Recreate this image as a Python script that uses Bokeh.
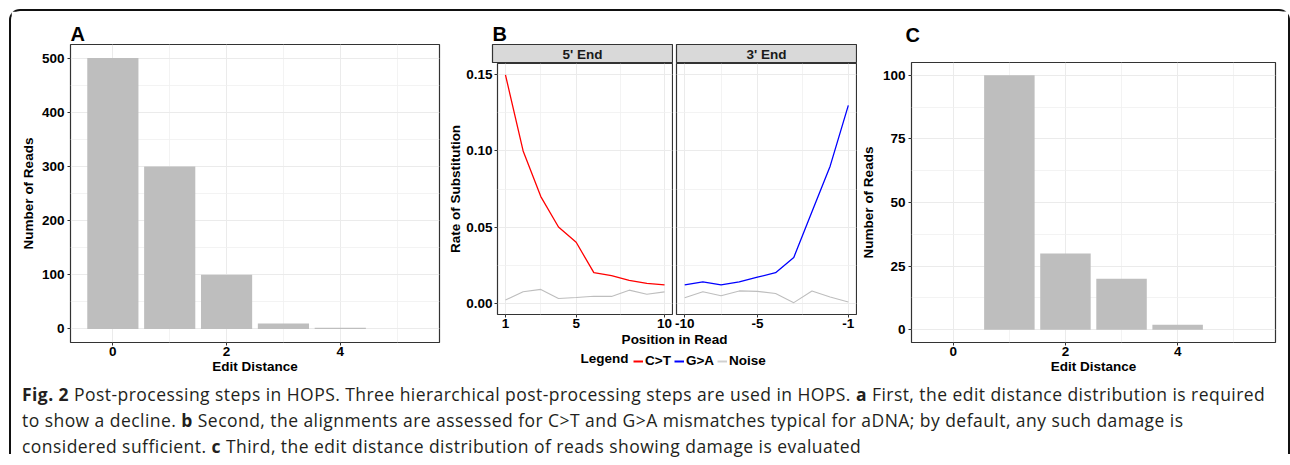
from bokeh.plotting import figure
from bokeh.models import Range1d, FixedTicker, NumeralTickFormatter, Legend, LegendItem, Div, Grid
from bokeh.layouts import row, column
from bokeh.embed import file_html
from bokeh.resources import INLINE
from bokeh.core.properties import value

# ---------------- data ----------------
edit_distance = [0, 1, 2, 3, 4, 5]
reads_all = [500, 300, 100, 10, 2, 0]          # panel A
reads_damaged = [0, 100, 30, 20, 2, 0]         # panel C

position = [1, 2, 3, 4, 5, 6, 7, 8, 9, 10]     # position index in read
ct_5p = [0.150, 0.100, 0.070, 0.050, 0.040, 0.020, 0.018, 0.015, 0.013, 0.012]
noise_5p = [0.002, 0.0075, 0.009, 0.003, 0.0037, 0.0045, 0.0044, 0.0085, 0.0058, 0.0074]
ga_3p = [0.012, 0.014, 0.012, 0.014, 0.017, 0.020, 0.030, 0.060, 0.090, 0.130]
noise_3p = [0.0035, 0.0074, 0.0048, 0.008, 0.0077, 0.0063, 0.0003, 0.008, 0.004, 0.0007]

ticks_5p = [1, 5, 10]
ticks_3p = [1, 5, 10]
tick_labels_3p = ["-10", "-5", "-1"]
rate_ticks = [0.0, 0.05, 0.10, 0.15]

legend_labels = ["C>T", "G>A", "Noise"]
legend_colors = ["red", "blue", "#D0D0D0"]

FONT = "Liberation Sans"
FS = "13.5px"
GRID = "#EBEBEB"
MINOR = "#F0F0F0"
BORDER = "#333333"
BAR = "#BEBEBE"
NAN = float("nan")


def base_fig(w, h, xr, yr, l, r, t, b, title=None, **kw):
    p = figure(width=w, height=h, x_range=xr, y_range=yr, toolbar_location=None,
               output_backend="svg", min_border_left=l, min_border_right=r,
               min_border_top=t, min_border_bottom=b, frame_align=False,
               title=title, **kw)
    p.outline_line_color = BORDER
    p.outline_line_width = 1.2
    p.background_fill_color = "white"
    p.border_fill_color = "white"
    if title:
        p.title.text_font = FONT
        p.title.text_font_style = "bold"
        p.title.text_font_size = "20px"
        p.title.text_color = "black"
        p.title.align = "left"
        p.title.standoff = 0
    return p


def style_axis(ax, label_standoff=1, title_standoff=0):
    ax.axis_line_color = None
    ax.major_tick_line_color = BORDER
    ax.major_tick_in = 0
    ax.major_tick_out = 3
    ax.minor_tick_line_color = None
    ax.major_label_text_font = FONT
    ax.major_label_text_font_style = "bold"
    ax.major_label_text_font_size = FS
    ax.major_label_text_color = "black"
    ax.axis_label_text_font = FONT
    ax.axis_label_text_font_style = "bold"
    ax.axis_label_text_font_size = FS
    ax.axis_label_text_color = "black"
    ax.major_label_standoff = label_standoff
    ax.axis_label_standoff = title_standoff


def style_grid(g, ticker):
    g.ticker = ticker
    g.grid_line_color = GRID
    g.grid_line_width = 1
    g.minor_grid_line_color = MINOR
    g.minor_grid_line_width = 0.8


def bar_panel(title, counts, w, h, l, r, t, b, ymax, yticks, yminor, ylab_standoff):
    span = ymax * 0.05
    p = base_fig(w, h, Range1d(-0.745, 5.745), Range1d(-span, ymax + span), l, r, t, b, title=title)
    xt = FixedTicker(ticks=[0, 2, 4], minor_ticks=[1, 3, 5])
    yt = FixedTicker(ticks=yticks, minor_ticks=yminor)
    p.xaxis.ticker = xt
    p.yaxis.ticker = yt
    style_grid(p.xgrid[0], xt)
    style_grid(p.ygrid[0], yt)
    p.xaxis.axis_label = "Edit Distance"
    p.yaxis.axis_label = "Number of Reads"
    style_axis(p.xaxis[0], 0, 0)
    style_axis(p.yaxis[0], 2, ylab_standoff)
    p.vbar(x=edit_distance, top=counts, width=0.9, bottom=0, fill_color=BAR, line_color=None)
    return p


def text_fig(w, h):
    f = base_fig(w, h, Range1d(0, w), Range1d(0, h), 0, 0, 0, 0,
                 x_axis_type=None, y_axis_type=None)
    f.outline_line_color = None
    return f


TXT = dict(text_font=value(FONT), text_font_style="bold", text_font_size=FS, text_color="black")

# ---------------- panel A ----------------
figA = bar_panel("A", reads_all, 434, 365, 59, 6, 33, 34, 500,
                 [0, 100, 200, 300, 400, 500], [50, 150, 250, 350, 450], 3)

# ---------------- panel C ----------------
headC = text_fig(431, 40)
headC.text(x=[48], y=[16.6], text=["C"], text_align="left", text_baseline="middle",
           text_font=value(FONT), text_font_style="bold", text_font_size="20px", text_color="black")
figC = bar_panel(None, reads_damaged, 431, 325, 48, 13, 11, 34, 100,
                 [0, 25, 50, 75, 100], [12.5, 37.5, 62.5, 87.5], 4)
blockC = column(headC, figC, spacing=0)

# ---------------- panel B ----------------
def strip(label, w, l, r, title=None):
    s = base_fig(w, 52, Range1d(0, 1), Range1d(0, 1), l, r, 33, 0, title=title,
                 x_axis_type=None, y_axis_type=None)
    s.background_fill_color = "#D9D9D9"
    s.text(x=[0.5], y=[0.5], text=[label], text_align="center", text_baseline="middle",
           text_font=value(FONT), text_font_style="bold", text_font_size=FS, text_color="#1a1a1a")
    return s


B_XR = (0.55, 10.45)
B_YR = (-0.0075, 0.1575)

strip5 = strip("5' End", 228, 47, 1, title="B")
strip3 = strip("3' End", 184, 3, 1)

fig5 = base_fig(228, 268, Range1d(*B_XR), Range1d(*B_YR), 47, 1, 0, 17)
xt5 = FixedTicker(ticks=ticks_5p, minor_ticks=[3, 7.5])
yt = FixedTicker(ticks=rate_ticks, minor_ticks=[0.025, 0.075, 0.125])
fig5.xaxis.ticker = xt5
fig5.yaxis.ticker = yt
fig5.yaxis.formatter = NumeralTickFormatter(format="0.00")
fig5.yaxis.axis_label = "Rate of Substitution"
style_grid(fig5.xgrid[0], xt5)
style_grid(fig5.ygrid[0], yt)
style_axis(fig5.xaxis[0], 0, 0)
style_axis(fig5.yaxis[0], 1, 0)
fig5.line(position, noise_5p, line_color="#BEBEBE", line_width=1.1)
fig5.line(position, ct_5p, line_color="red", line_width=1.3)

fig3 = base_fig(184, 268, Range1d(*B_XR), Range1d(*B_YR), 3, 1, 0, 17, y_axis_type=None)
xt3 = FixedTicker(ticks=ticks_3p, minor_ticks=[3, 7.5])
yt3 = FixedTicker(ticks=rate_ticks, minor_ticks=[0.025, 0.075, 0.125])
fig3.xaxis.ticker = xt3
fig3.xaxis.major_label_overrides = {t: lab for t, lab in zip(ticks_3p, tick_labels_3p)}
style_grid(fig3.xgrid[0], xt3)
g3 = Grid(dimension=1)
style_grid(g3, yt3)
fig3.add_layout(g3)
style_axis(fig3.xaxis[0], 0, 0)
fig3.line(position, noise_3p, line_color="#BEBEBE", line_width=1.1)
fig3.line(position, ga_3p, line_color="blue", line_width=1.3)

# bottom strip: shared axis title + legend
bf = text_fig(412, 45)
bf.text(x=[229], y=[44.5], text=["Position in Read"], text_align="center", text_baseline="top", **TXT)
bf.text(x=[135], y=[18.5], text=["Legend"], text_align="left", text_baseline="alphabetic", **TXT)
items = []
for lab, col in zip(legend_labels, legend_colors):
    rr = bf.line(x=[NAN], y=[NAN], line_color=col, line_width=2)
    items.append(LegendItem(label=lab, renderers=[rr]))
legend = Legend(items=items, orientation="horizontal", location=(188, 8), padding=0, margin=0,
                spacing=3, label_standoff=2, glyph_width=10, glyph_height=14, label_height=14,
                border_line_color=None, background_fill_alpha=0,
                label_text_font=FONT, label_text_font_style="bold", label_text_font_size=FS,
                label_text_color="black")
bf.add_layout(legend)

blockB = column(row(column(strip5, fig5, spacing=0), column(strip3, fig3, spacing=0), spacing=0),
                bf, spacing=0)

# ---------------- caption ----------------
caption_html = (
    "<b>Fig. 2</b> Post-processing steps in HOPS. Three hierarchical post-processing steps are used in HOPS. "
    "<b>a</b> First, the edit distance distribution is required<br>"
    "to show a decline. <b>b</b> Second, the alignments are assessed for C&gt;T and G&gt;A mismatches "
    "typical for aDNA; by default, any such damage is<br>"
    "considered sufficient. <b>c</b> Third, the edit distance distribution of reads showing damage is evaluated"
)
caption = Div(text=caption_html, width=1277, height=78, margin=0,
              styles={"font-family": "'Open Sans', sans-serif", "font-size": "17.5px",
                      "letter-spacing": "0.45px",
                      "line-height": "26px", "color": "#231f20", "white-space": "nowrap",
                      "padding-left": "11px", "padding-top": "5px", "box-sizing": "border-box"})

p = column(row(figA, blockB, blockC, spacing=0), caption, spacing=0,
           styles={"margin-left": "9px", "margin-top": "9px",
                   "border-left": "2px solid #111", "border-top": "2px solid #111",
                   "border-right": "2px solid #111",
                   "border-top-left-radius": "11px", "border-top-right-radius": "11px"})

open("out.html", "w").write(file_html(p, INLINE))
